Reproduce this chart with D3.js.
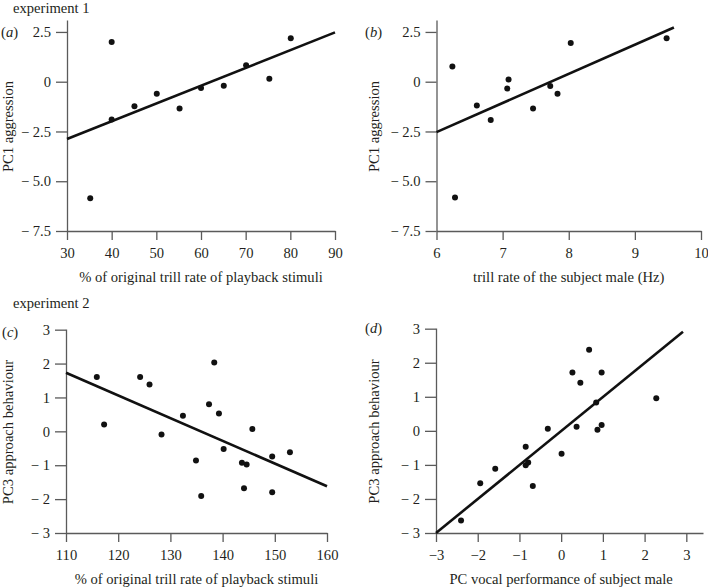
<!DOCTYPE html>
<html><head><meta charset="utf-8">
<script src="https://cdn.jsdelivr.net/npm/d3@7"></script>
<style>
body{margin:0;background:#fff}
svg{display:block;font-family:'Liberation Serif','Times New Roman',serif}
svg text{font-family:'Liberation Serif','Times New Roman',serif !important;font-size:14.6px}
</style></head><body>
<svg id="chart" width="708" height="588"></svg>
<script>
// ---- data ----
const aX = [40, 40, 35.2, 45.1, 50.1, 55.2, 60.0, 65.1, 70.1, 75.3, 80.1];
const aY = [2.0, -1.9, -5.85, -1.23, -0.6, -1.35, -0.32, -0.2, 0.83, 0.15, 2.18];
const aFit = [[30, -2.88], [90, 2.48]];
const aXTicks = [30, 40, 50, 60, 70, 80, 90];
const aYTicks = [2.5, 0, -2.5, -5.0, -7.5];

const bX = [6.24, 6.28, 6.61, 6.82, 7.07, 7.09, 7.46, 7.72, 7.83, 8.03, 9.48];
const bY = [0.77, -5.82, -1.19, -1.92, -0.34, 0.11, -1.34, -0.21, -0.61, 1.95, 2.18];
const bFit = [[6, -2.53], [9.59, 2.72]];
const bXTicks = [6, 7, 8, 9, 10];
const bYTicks = [2.5, 0, -2.5, -5.0, -7.5];

const cX = [115.9, 117.3, 124.2, 126.0, 128.3, 132.4, 134.9, 135.9, 137.4, 138.4, 139.3, 140.2, 143.7, 144.1, 144.6, 145.7, 149.5, 149.5, 152.9];
const cY = [1.60, 0.20, 1.60, 1.38, -0.09, 0.46, -0.86, -1.91, 0.80, 2.03, 0.53, -0.52, -0.93, -1.68, -0.98, 0.07, -0.74, -1.80, -0.62];
const cFit = [[110, 1.73], [160, -1.62]];
const cXTicks = [110, 120, 130, 140, 150, 160];
const cYTicks = [3, 2, 1, 0, -1, -2, -3];

const dX = [-2.40, -1.94, -1.58, -0.85, -0.85, -0.79, -0.68, -0.32, 0.01, 0.27, 0.37, 0.46, 0.67, 0.84, 0.87, 0.97, 0.97, 2.28];
const dY = [-2.63, -1.54, -1.11, -0.47, -1.01, -0.93, -1.62, 0.06, -0.67, 1.71, 0.12, 1.41, 2.38, 0.83, 0.03, 1.71, 0.17, 0.96];
const dFit = [[-3, -3], [2.92, 2.91]];
const dXTicks = [-3, -2, -1, 0, 1, 2, 3];
const dYTicks = [3, 2, 1, 0, -1, -2, -3];

const titles = ["experiment 1", "experiment 2"];
const letters = ["a", "b", "c", "d"];
const xTitles = ["% of original trill rate of playback stimuli", "trill rate of the subject male (Hz)",
                 "% of original trill rate of playback stimuli", "PC vocal performance of subject male"];
const yTitles = ["PC1 aggression", "PC1 aggression", "PC3 approach behaviour", "PC3 approach behaviour"];

// ---- drawing ----
const svg = d3.select("#chart");
const TXT = "#231f20", AX = "#5a5a5a";

function fmtY(v, dec) {
  const s = dec ? Math.abs(v).toFixed(1) : String(Math.abs(v));
  if (v === 0) return "0";
  return v < 0 ? "\u2212 " + s : s;
}
function fmtX(v) { return v < 0 ? "\u2212" + Math.abs(v) : String(v); }

function panel(o) {
  const x = d3.scaleLinear().domain(o.xDom).range(o.xRange);
  const y = d3.scaleLinear().domain(o.yDom).range(o.yRange);
  const g = svg.append("g");

  const xa = g.append("g").attr("transform", `translate(0,${o.yRange[0]})`)
    .call(d3.axisBottom(x).tickValues(o.xTicks).tickSize(9).tickSizeOuter(0).tickPadding(8).tickFormat(fmtX));
  const ya = g.append("g").attr("transform", `translate(${o.xRange[0]},0)`)
    .call(d3.axisLeft(y).tickValues(o.yTicks).tickSize(11).tickSizeOuter(0).tickPadding(5).tickFormat(v => fmtY(v, o.dec)));
  [xa, ya].forEach(a => {
    a.attr("font-family", null).attr("font-size", null);
    a.select(".domain").attr("stroke", AX).attr("stroke-width", 1.3);
    a.selectAll(".tick line").attr("stroke", AX).attr("stroke-width", 1.3);
    a.selectAll(".tick text").attr("fill", TXT);
  });

  g.append("line")
    .attr("x1", x(o.fit[0][0])).attr("y1", y(o.fit[0][1]))
    .attr("x2", x(o.fit[1][0])).attr("y2", y(o.fit[1][1]))
    .attr("stroke", "#111").attr("stroke-width", 2.6);

  g.selectAll("circle").data(o.xs).join("circle")
    .attr("cx", d => x(d)).attr("cy", (d, i) => y(o.ys[i])).attr("r", 3).attr("fill", "#111");

  const midX = (x(o.xTicks[0]) + x(o.xTicks[o.xTicks.length - 1])) / 2;
  g.append("text").attr("x", midX).attr("y", o.yRange[0] + 51).attr("text-anchor", "middle")
    .attr("fill", TXT).text(o.xTitle);
  const midY = (o.yRange[0] + o.yRange[1]) / 2 + 1;
  g.append("text").attr("transform", `translate(${o.yTitleX},${midY}) rotate(-90)`).attr("text-anchor", "middle")
    .attr("fill", TXT).text(o.yTitle);

  const lt = g.append("text").attr("x", o.letterPos[0]).attr("y", o.letterPos[1]).attr("fill", TXT);
  lt.append("tspan").text("(");
  lt.append("tspan").style("font-style", "italic").text(o.letter);
  lt.append("tspan").text(")");
}

panel({xDom: [30, 90], xRange: [67, 335], yDom: [-7.5, 3.1], yRange: [231, 20], dec: true,
  xTicks: aXTicks, yTicks: aYTicks, xs: aX, ys: aY, fit: aFit, xTitle: xTitles[0], yTitle: yTitles[0],
  yTitleX: 13, letter: letters[0], letterPos: [1, 37]});
panel({xDom: [6, 10], xRange: [436.5, 701], yDom: [-7.5, 3.1], yRange: [231, 20], dec: true,
  xTicks: bXTicks, yTicks: bYTicks, xs: bX, ys: bY, fit: bFit, xTitle: xTitles[1], yTitle: yTitles[1],
  yTitleX: 379, letter: letters[1], letterPos: [365, 37]});
panel({xDom: [110, 160], xRange: [66, 327], yDom: [-3, 3.02], yRange: [533, 329], dec: false,
  xTicks: cXTicks, yTicks: cYTicks, xs: cX, ys: cY, fit: cFit, xTitle: xTitles[2], yTitle: yTitles[2],
  yTitleX: 13, letter: letters[2], letterPos: [2, 337]});
panel({xDom: [-3, 3.4], xRange: [436, 703], yDom: [-3, 3.02], yRange: [533, 328], dec: false,
  xTicks: dXTicks, yTicks: dYTicks, xs: dX, ys: dY, fit: dFit, xTitle: xTitles[3], yTitle: yTitles[3],
  yTitleX: 379, letter: letters[3], letterPos: [365, 333]});

svg.append("text").attr("x", 13).attr("y", 13).attr("fill", TXT).text(titles[0]);
svg.append("text").attr("x", 13).attr("y", 308).attr("fill", TXT).text(titles[1]);
</script>
</body></html>
